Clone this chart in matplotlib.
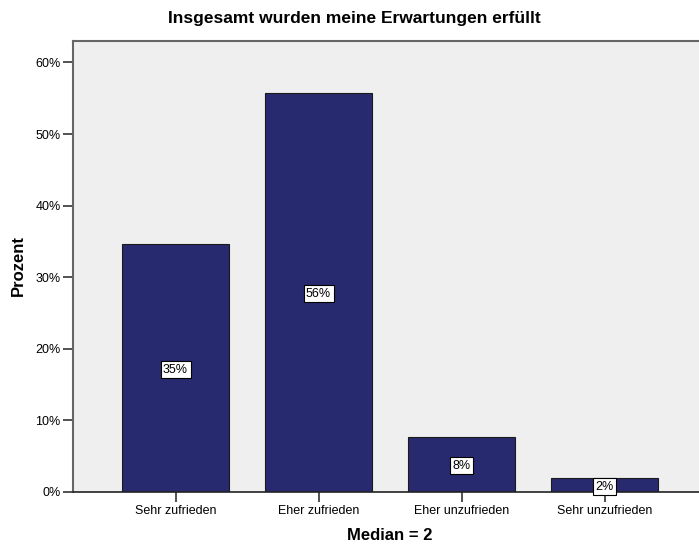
import matplotlib.pyplot as plt

categories = ['Sehr zufrieden', 'Eher zufrieden', 'Eher unzufrieden', 'Sehr unzufrieden']
percent = [34.6, 55.8, 7.7, 1.9]
bar_labels = ['35%', '56%', '8%', '2%']
yticks = [0, 10, 20, 30, 40, 50, 60]

plt.rcParams['font.family'] = ['Liberation Sans', 'DejaVu Sans']

fig = plt.figure(figsize=(6.99, 5.46), dpi=100)
ax = fig.add_axes([73 / 699, 1 - 492 / 546, 1 - 73 / 699, (492 - 41) / 546])
ax.set_facecolor('#efefef')

x = range(len(categories))
bars = ax.bar(x, percent, width=0.75, color='#282a6f', edgecolor='#1a1a1a', linewidth=0.8, zorder=2)

# labels in the middle of the bars
for bar, lab in zip(bars, bar_labels):
    ax.text(bar.get_x() + bar.get_width() / 2, bar.get_height() / 2, lab,
            ha='center', va='center_baseline', fontsize=9, color='black', zorder=3,
            bbox=dict(boxstyle='square,pad=0.2', facecolor='white', edgecolor='black', linewidth=0.8))

ax.set_xlim(-0.717, 3.66)
ax.set_ylim(0, 63)
ax.set_xticks(list(x))
ax.set_xticklabels(categories, fontsize=9)
ax.set_yticks(yticks)
ax.set_yticklabels([f'{t}%' for t in yticks], fontsize=9)
ax.tick_params(axis='both', direction='out', length=7, width=1.2, color='#333333', pad=2)

for side in ['left', 'top']:
    ax.spines[side].set_color('#666666')
    ax.spines[side].set_linewidth(1.5)
ax.spines['bottom'].set_color('#222222')
ax.spines['bottom'].set_linewidth(1.2)
ax.spines['right'].set_visible(False)

fig.text(18 / 699, 1 - 266 / 546, 'Prozent', rotation=90, ha='center', va='center',
         fontsize=12, fontweight='bold')
fig.text(390 / 699, 1 - 535 / 546, 'Median = 2', ha='center', va='center',
         fontsize=12, fontweight='bold')
fig.text(354 / 699, 1 - 18 / 546, 'Insgesamt wurden meine Erwartungen erfüllt',
         ha='center', va='center', fontsize=12.5, fontweight='bold')

fig.savefig('out.png', dpi=100)
